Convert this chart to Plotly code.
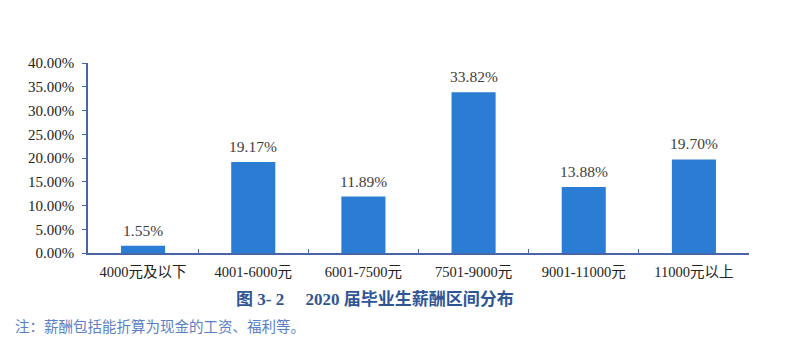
import plotly.graph_objects as go

categories = ["4000元及以下", "4001-6000元", "6001-7500元", "7501-9000元", "9001-11000元", "11000元以上"]
values = [1.55, 19.17, 11.89, 33.82, 13.88, 19.70]
y_ticks = [0, 5, 10, 15, 20, 25, 30, 35, 40]
y_tick_labels = [f"{v:.2f}%" for v in y_ticks]
value_labels = [f"{v:.2f}%" for v in values]
title_text = "图 3- 2　 2020 届毕业生薪酬区间分布"
note_text = "注：薪酬包括能折算为现金的工资、福利等。"

serif = "Liberation Serif, Noto Sans CJK SC, serif"
axis_color = "#4a64a8"

fig = go.Figure(go.Bar(
    x=categories, y=values,
    marker=dict(color="#2b7cd3", line=dict(width=0)),
    cliponaxis=False,
))

label_annotations = [
    dict(x=c, y=v, text=t, xref="x", yref="y", showarrow=False,
         xanchor="center", yanchor="bottom", yshift=5,
         font=dict(family=serif, size=15.5, color="#404040"))
    for c, v, t in zip(categories, values, value_labels)
]

fig.update_layout(
    width=798, height=354,
    margin=dict(l=88, r=49, t=63, b=101),
    paper_bgcolor="white", plot_bgcolor="white",
    bargap=0.6, showlegend=False,
    xaxis=dict(
        showline=True, linecolor=axis_color, linewidth=1.5,
        ticks="inside", tickson="boundaries", ticklen=4, tickcolor=axis_color,
        tickfont=dict(family=serif, size=14.5, color="#222222"),
        ticklabelstandoff=5,
        showgrid=False,
    ),
    yaxis=dict(
        range=[0, 40], tickvals=y_ticks, ticktext=y_tick_labels,
        showline=True, linecolor=axis_color, linewidth=1.5,
        ticks="outside", ticklen=4, tickcolor=axis_color,
        tickfont=dict(family=serif, size=15, color="#222222"),
        ticklabelstandoff=5,
        showgrid=False, zeroline=False,
    ),
    annotations=label_annotations + [
        dict(text=f"<b>{title_text}</b>", xref="paper", yref="paper",
             x=0.434, y=-0.247, xanchor="center", yanchor="middle", showarrow=False,
             font=dict(family=serif, size=17, color="#2f5597")),
        dict(text=note_text, xref="paper", yref="paper",
             x=-75/661, y=-0.389, xanchor="left", yanchor="middle", showarrow=False,
             font=dict(family=serif, size=14.5, color="#5b7fc7")),
    ],
)

fig.write_html("out.html")
